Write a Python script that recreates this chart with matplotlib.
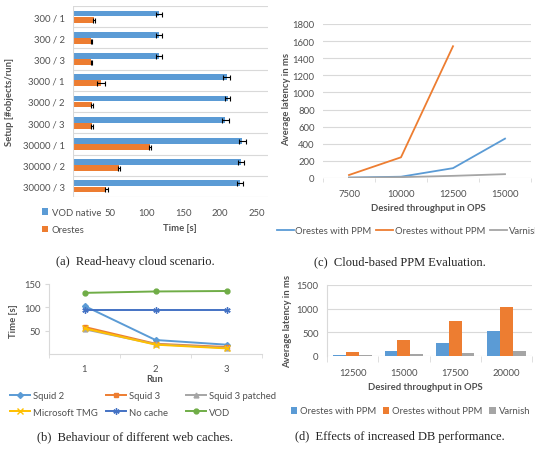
import matplotlib
matplotlib.use("Agg")
import matplotlib.pyplot as plt
import numpy as np

W, H = 535, 452

# (a) read-heavy cloud scenario
setups = ["300 / 1", "300 / 2", "300 / 3", "3000 / 1", "3000 / 2", "3000 / 3",
          "30000 / 1", "30000 / 2", "30000 / 3"]
vod_native = [117, 117, 117, 209, 210, 207, 230, 228, 227]
vod_err = [4, 4, 4, 5, 4, 5, 5, 4, 4]
orestes = [29, 25, 25, 38, 26, 26, 105, 62, 45]
orestes_err = [1.5, 1, 1, 5, 1.5, 1, 1.5, 1.5, 2]

# (c) cloud-based PPM evaluation
c_ops = ["7500", "10000", "12500", "15000"]
c_with_ppm = [5, 15, 115, 460]
c_without_ppm = [35, 242, 1540, np.nan]
c_varnish = [3, 10, 25, 45]

# (b) web caches
runs = ["1", "2", "3"]
squid2 = [103, 30, 20]
squid3 = [58, 22, 15]
squid3_patched = [53, 21, 13]
ms_tmg = [55, 20, 12]
no_cache = [94, 94, 94]
vod = [131, 134, 135]

# (d) increased DB performance
d_ops = ["12500", "15000", "17500", "20000"]
d_with_ppm = [25, 110, 280, 525]
d_without_ppm = [90, 340, 750, 1045]
d_varnish = [20, 45, 70, 115]

BLUE, ORANGE, GREY = "#5B9BD5", "#ED7D31", "#A5A5A5"
TXT = "#505050"
GRID = "#D9D9D9"
FONT = "Lato"
FS = 6.8

plt.rcParams["font.family"] = [FONT, "DejaVu Sans"]
plt.rcParams["font.size"] = FS

fig = plt.figure(figsize=(W / 100, H / 100), dpi=100)


def px_axes(x0, y0, x1, y1):
    return fig.add_axes([x0 / W, 1 - y1 / H, (x1 - x0) / W, (y1 - y0) / H])


def style(ax):
    for s in ax.spines.values():
        s.set_visible(False)
    ax.tick_params(colors=TXT, labelsize=FS, length=0)


def fx(x):
    return x / W


def fy(y):
    return 1 - y / H


# ---- (a) ----
ax = px_axes(73, 7, 268, 198)
style(ax)
y = np.arange(len(setups))
h = 0.27
ax.barh(y - 0.145, vod_native, h, xerr=vod_err, color=BLUE, label="VOD native",
        error_kw=dict(ecolor="black", elinewidth=0.8, capsize=1.8, capthick=0.8))
ax.barh(y + 0.145, orestes, h, xerr=orestes_err, color=ORANGE, label="Orestes",
        error_kw=dict(ecolor="black", elinewidth=0.8, capsize=1.8, capthick=0.8))
ax.set_ylim(len(setups) - 0.5, -0.5)
ax.set_xlim(0, 265)
ax.set_yticks(y)
ax.set_yticklabels(setups)
ax.set_xticks([50, 100, 150, 200, 250])
for b in np.arange(-0.5, len(setups), 1.0):
    ax.axhline(b, color=GRID, lw=0.8, zorder=0)
ax.axvline(0, color=GRID, lw=0.8)
ax.tick_params(axis="y", pad=6)
ax.tick_params(axis="x", pad=8)
fig.text(fx(180), fy(229), "Time [s]", ha="center", va="center", color=TXT,
         fontsize=FS, fontweight="bold")
fig.text(fx(10), fy(102), "Setup [#objects/run]", ha="center", va="center",
         color=TXT, fontsize=FS, fontweight="bold", rotation=90)
ax.legend(loc="center left", bbox_to_anchor=(fx(33), fy(222)), bbox_transform=fig.transFigure,
          frameon=False, ncol=1, handlelength=0.7, handleheight=0.7, handletextpad=0.4,
          labelspacing=0.9, labelcolor=TXT, fontsize=FS)

# ---- (c) ----
ax = px_axes(323, 25, 531, 179)
style(ax)
xc = np.arange(len(c_ops))
ax.plot(xc, c_with_ppm, color=BLUE, lw=1.3, label="Orestes with PPM")
ax.plot(xc, c_without_ppm, color=ORANGE, lw=1.3, label="Orestes without PPM")
ax.plot(xc, c_varnish, color=GREY, lw=1.3, label="Varnish")
ax.set_xlim(-0.5, len(c_ops) - 0.5)
ax.set_ylim(0, 1800)
ax.set_yticks(np.arange(0, 1801, 200))
ax.set_xticks(xc)
ax.set_xticklabels(c_ops)
ax.set_xticks(np.arange(-0.5, len(c_ops), 1.0), minor=True)
ax.tick_params(axis="x", which="minor", length=3, color=GRID)
ax.yaxis.grid(True, color=GRID, lw=0.8)
ax.set_axisbelow(True)
ax.tick_params(axis="x", pad=8)
ax.tick_params(axis="y", pad=6)
fig.text(fx(428), fy(209), "Desired throughput in OPS", ha="center", va="center",
         color=TXT, fontsize=FS, fontweight="bold")
fig.text(fx(287), fy(100), "Average latency in ms", ha="center", va="center",
         color=TXT, fontsize=FS, fontweight="bold", rotation=90)
fig.legend(*ax.get_legend_handles_labels(), loc="center left",
           bbox_to_anchor=(fx(268), fy(232)), frameon=False, ncol=3,
           handlelength=1.8, handletextpad=0.2, columnspacing=0.5,
           labelcolor=TXT, fontsize=FS)

# ---- (b) ----
ax = px_axes(49, 285, 262, 355)
style(ax)
xb = np.arange(len(runs))
series_b = [
    (squid2, "Squid 2", "#5B9BD5", "D", 3),
    (squid3, "Squid 3", "#ED7D31", "s", 3.5),
    (squid3_patched, "Squid 3 patched", "#A5A5A5", "^", 3.5),
    (ms_tmg, "Microsoft TMG", "#FFC000", "x", 4),
    (no_cache, "No cache", "#4472C4", (6, 2, 0), 4.5),
    (vod, "VOD", "#70AD47", "o", 3.5),
]
for vals, lab, col, mk, ms in series_b:
    ax.plot(xb, vals, color=col, lw=1.4, marker=mk, ms=ms, mec=col, mew=1, label=lab)
ax.set_xlim(-0.5, len(runs) - 0.5)
ax.set_ylim(0, 150)
ax.set_yticks([50, 100, 150])
ax.set_xticks(xb)
ax.set_xticklabels(runs)
ax.set_xticks(np.arange(-0.5, len(runs), 1.0), minor=True)
ax.spines["left"].set_visible(True)
ax.spines["bottom"].set_visible(True)
ax.spines["left"].set_color(GRID)
ax.spines["bottom"].set_color(GRID)
ax.tick_params(axis="both", which="both", length=3, color=GRID)
ax.tick_params(axis="x", which="major", length=0, pad=7)
ax.tick_params(axis="y", pad=3)
fig.text(fx(155), fy(380), "Run", ha="center", va="center", color=TXT,
         fontsize=FS, fontweight="bold")
fig.text(fx(14), fy(321), "Time [s]", ha="center", va="center", color=TXT,
         fontsize=FS, fontweight="bold", rotation=90)
# Excel legend: equal-width columns, entries read row-wise
hb, lb = ax.get_legend_handles_labels()
for col, x0 in enumerate([1, 97, 177]):
    idx = [col, col + 3]
    leg = fig.legend([hb[i] for i in idx], [lb[i] for i in idx], loc="center left",
                     bbox_to_anchor=(fx(x0), fy(405)), frameon=False, ncol=1,
                     handlelength=2.2, handletextpad=0.3,
                     labelspacing=0.75, labelcolor=TXT, fontsize=FS)

# ---- (d) ----
ax = px_axes(327, 286, 532, 357)
style(ax)
xd = np.arange(len(d_ops))
bw = 0.25
ax.bar(xd - bw, d_with_ppm, bw, color=BLUE, label="Orestes with PPM")
ax.bar(xd, d_without_ppm, bw, color=ORANGE, label="Orestes without PPM")
ax.bar(xd + bw, d_varnish, bw, color=GREY, label="Varnish")
ax.set_xlim(-0.5, len(d_ops) - 0.5)
ax.set_ylim(0, 1500)
ax.set_yticks([0, 500, 1000, 1500])
ax.set_xticks(xd)
ax.set_xticklabels(d_ops)
ax.set_xticks(np.arange(-0.5, len(d_ops), 1.0), minor=True)
ax.tick_params(axis="x", which="minor", length=4, color=GRID)
ax.yaxis.grid(True, color=GRID, lw=0.8)
ax.set_axisbelow(True)
ax.spines["left"].set_visible(True)
ax.spines["left"].set_color(GRID)
ax.tick_params(axis="x", pad=9)
ax.tick_params(axis="y", pad=6)
fig.text(fx(425), fy(387), "Desired throughput in OPS", ha="center", va="center",
         color=TXT, fontsize=FS, fontweight="bold")
fig.text(fx(288), fy(322), "Average latency in ms", ha="center", va="center",
         color=TXT, fontsize=FS, fontweight="bold", rotation=90)
fig.legend(*ax.get_legend_handles_labels(), loc="center left",
           bbox_to_anchor=(fx(282), fy(412)), frameon=False, ncol=3,
           handlelength=0.7, handleheight=0.7, handletextpad=0.3, columnspacing=0.7,
           labelcolor=TXT, fontsize=FS)

# captions
cap = dict(ha="center", va="center", fontsize=9, family=["Liberation Serif", "DejaVu Serif"],
           color="#222222")
fig.text(fx(135), fy(262), "(a)  Read-heavy cloud scenario.", **cap)
fig.text(fx(400), fy(262), "(c)  Cloud-based PPM Evaluation.", **cap)
fig.text(fx(135), fy(437), "(b)  Behaviour of different web caches.", **cap)
fig.text(fx(400), fy(437), "(d)  Effects of increased DB performance.", **cap)

fig.savefig("out.png", dpi=100)
